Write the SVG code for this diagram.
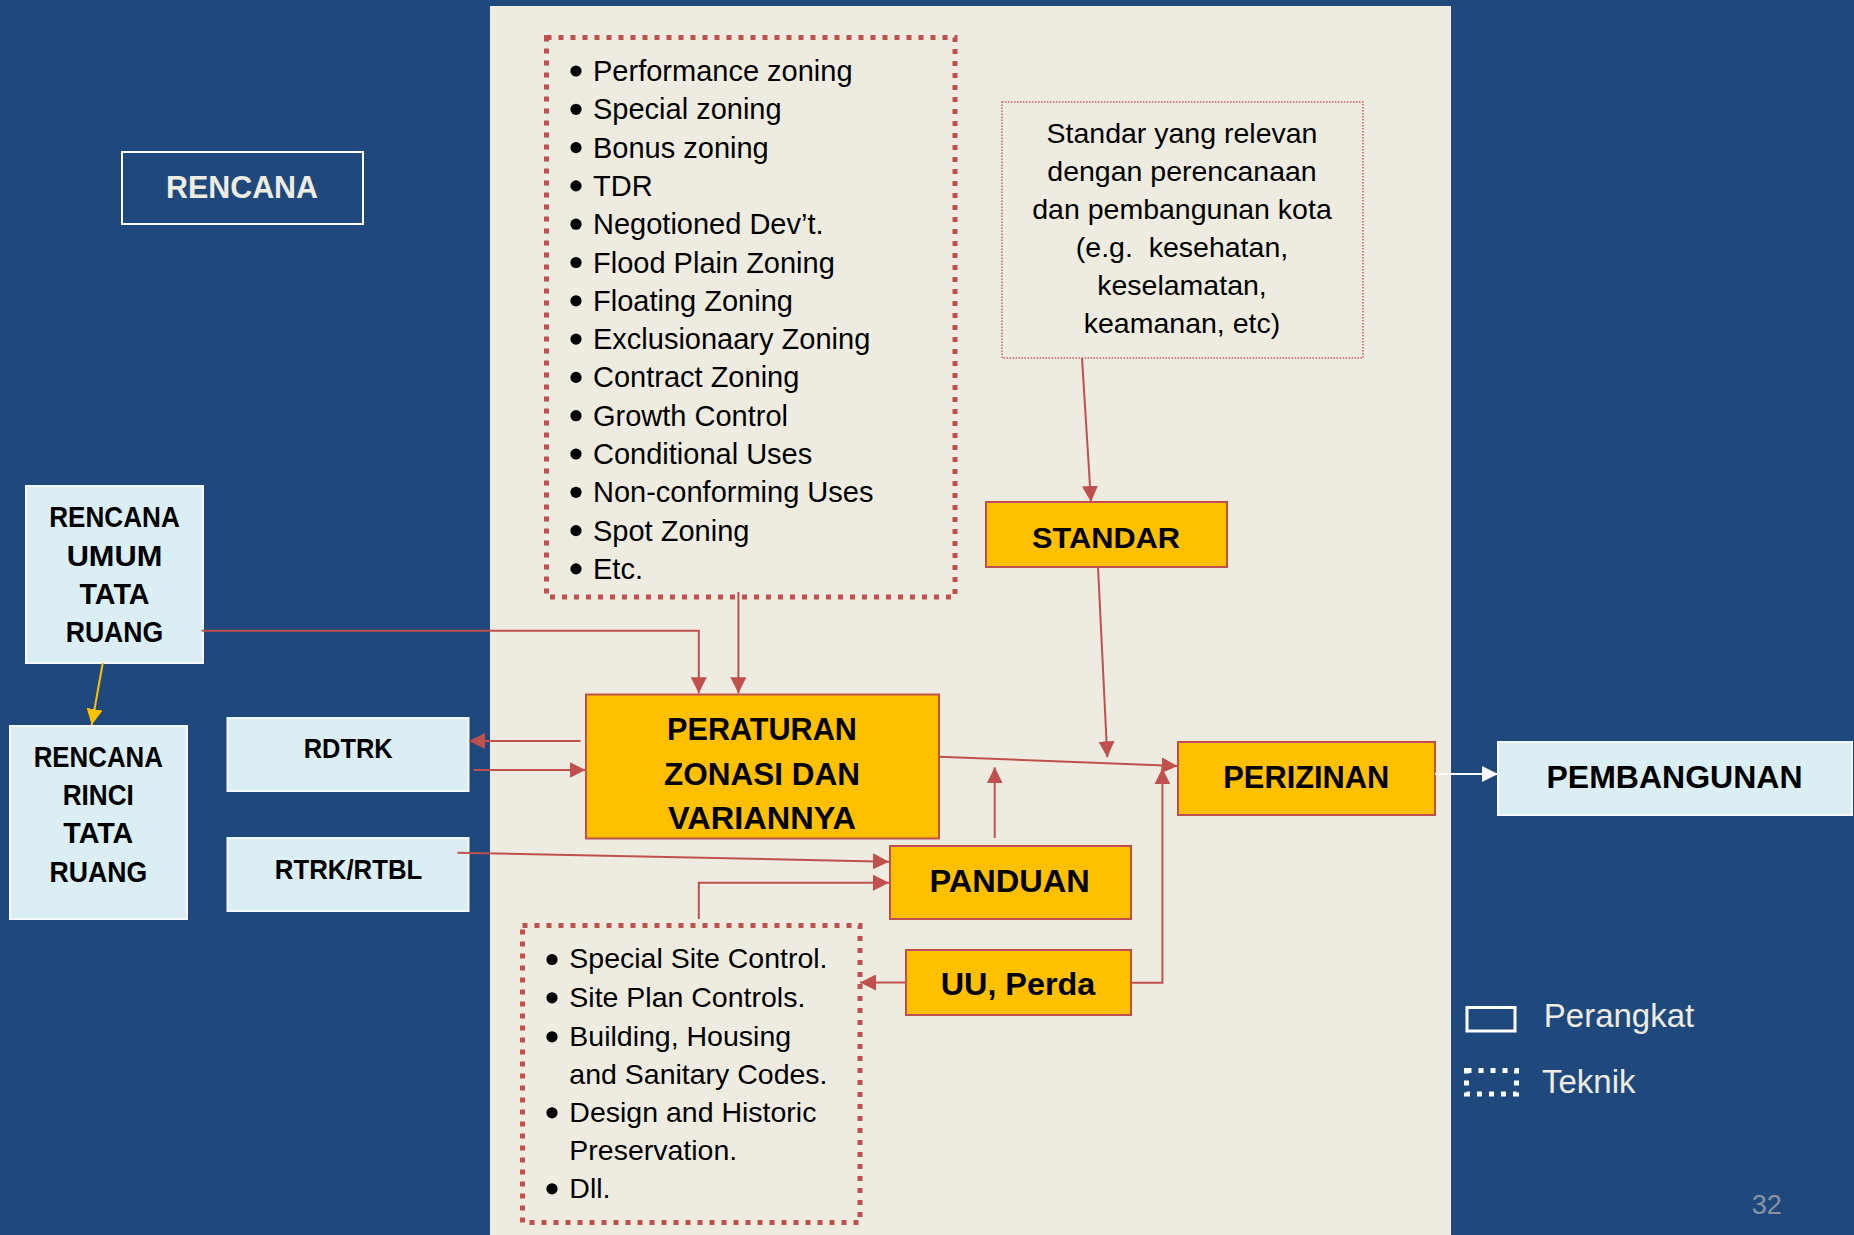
<svg xmlns="http://www.w3.org/2000/svg" width="1854" height="1235" viewBox="0 0 1854 1235">
<defs>
<style>
.bg{fill:#1F497D}
.panel{fill:#EEECE1}
.yb{fill:#FFC000;stroke:#C0504D;stroke-width:2}
.lb{fill:#DBEEF4;stroke:#F4F8FB;stroke-width:2}
.tech{fill:none;stroke:#C0504D;stroke-width:5;stroke-dasharray:5 7}
.thin{fill:none;stroke:#D65C5C;stroke-width:1.5;stroke-dasharray:1.5 1.5}
.b{font-family:"Liberation Sans",Arial,sans-serif;font-weight:bold;fill:#000;text-anchor:middle}
.t{font-family:"Liberation Sans",Arial,sans-serif;fill:#000}
.c{text-anchor:middle}
.leg{font-family:"Liberation Sans",Arial,sans-serif;fill:#EEECE1;font-size:33px}
.r{fill:none;stroke:#C0504D;stroke-width:2}
.dot{fill:#000}
</style>
<marker id="ar" markerUnits="userSpaceOnUse" markerWidth="16" markerHeight="16" viewBox="0 0 16 16" refX="16" refY="8" orient="auto"><path d="M0,0 L16,8 L0,16 z" fill="#C0504D"/></marker>
<marker id="ay" markerUnits="userSpaceOnUse" markerWidth="16" markerHeight="16" viewBox="0 0 16 16" refX="16" refY="8" orient="auto"><path d="M0,0 L16,8 L0,16 z" fill="#FFC000"/></marker>
<marker id="aw" markerUnits="userSpaceOnUse" markerWidth="16" markerHeight="16" viewBox="0 0 16 16" refX="16" refY="8" orient="auto"><path d="M0,0 L16,8 L0,16 z" fill="#FFFFFF"/></marker>
</defs>
<rect class="bg" x="0" y="0" width="1854" height="1235"/>
<rect class="panel" x="490" y="6" width="961" height="1229"/>

<g id="rencana-title">
<rect x="122" y="152" width="241" height="72" fill="none" stroke="#FFFFFF" stroke-width="2"/>
<text x="242" y="198" font-family="Liberation Sans, Arial, sans-serif" font-weight="bold" font-size="32" fill="#EEECE1" text-anchor="middle" textLength="152" lengthAdjust="spacingAndGlyphs">RENCANA</text>
</g>

<g id="zoning-techniques">
<rect class="tech" x="546.5" y="37.5" width="408.5" height="559.5"/>
<g class="dot">
<circle cx="576" cy="71" r="5.6"/><circle cx="576" cy="109.3" r="5.6"/><circle cx="576" cy="147.6" r="5.6"/><circle cx="576" cy="185.9" r="5.6"/><circle cx="576" cy="224.2" r="5.6"/><circle cx="576" cy="262.5" r="5.6"/><circle cx="576" cy="300.8" r="5.6"/><circle cx="576" cy="339.1" r="5.6"/><circle cx="576" cy="377.4" r="5.6"/><circle cx="576" cy="415.7" r="5.6"/><circle cx="576" cy="454" r="5.6"/><circle cx="576" cy="492.3" r="5.6"/><circle cx="576" cy="530.6" r="5.6"/><circle cx="576" cy="568.9" r="5.6"/>
</g>
<g class="t" font-size="29">
<text x="593" y="81">Performance zoning</text>
<text x="593" y="119.3">Special zoning</text>
<text x="593" y="157.6">Bonus zoning</text>
<text x="593" y="195.9">TDR</text>
<text x="593" y="234.2">Negotioned Dev’t.</text>
<text x="593" y="272.5">Flood Plain Zoning</text>
<text x="593" y="310.8">Floating Zoning</text>
<text x="593" y="349.1">Exclusionaary Zoning</text>
<text x="593" y="387.4">Contract Zoning</text>
<text x="593" y="425.7">Growth Control</text>
<text x="593" y="464">Conditional Uses</text>
<text x="593" y="502.3">Non-conforming Uses</text>
<text x="593" y="540.6">Spot Zoning</text>
<text x="593" y="578.9">Etc.</text>
</g>
</g>

<g id="standar-note">
<rect class="thin" x="1002" y="102" width="361" height="256"/>
<g class="t c" font-size="28.5">
<text x="1182" y="143.3">Standar yang relevan</text>
<text x="1182" y="181.3">dengan perencanaan</text>
<text x="1182" y="219.3">dan pembangunan kota</text>
<text x="1182" y="257.3" xml:space="preserve">(e.g.  kesehatan,</text>
<text x="1182" y="295.3">keselamatan,</text>
<text x="1182" y="333.3">keamanan, etc)</text>
</g>
</g>

<g id="standar">
<rect class="yb" x="986" y="502" width="241" height="65"/>
<text class="b" x="1106" y="548" font-size="30" textLength="148" lengthAdjust="spacingAndGlyphs">STANDAR</text>
</g>

<g id="rutr">
<rect class="lb" x="26" y="486" width="177" height="177"/>
<g class="b" font-size="29">
<text x="114.5" y="527.3" textLength="130.5" lengthAdjust="spacingAndGlyphs">RENCANA</text>
<text x="114.5" y="565.7" textLength="95.7" lengthAdjust="spacingAndGlyphs">UMUM</text>
<text x="114.5" y="604" textLength="70" lengthAdjust="spacingAndGlyphs">TATA</text>
<text x="114.5" y="642.3" textLength="97.7" lengthAdjust="spacingAndGlyphs">RUANG</text>
</g>
</g>

<g id="rrtr">
<rect class="lb" x="10" y="726" width="177" height="193"/>
<g class="b" font-size="29">
<text x="98.3" y="766.7" textLength="129.3" lengthAdjust="spacingAndGlyphs">RENCANA</text>
<text x="98.3" y="805" textLength="71.2" lengthAdjust="spacingAndGlyphs">RINCI</text>
<text x="98.3" y="843.3" textLength="70" lengthAdjust="spacingAndGlyphs">TATA</text>
<text x="98.3" y="881.7" textLength="97.7" lengthAdjust="spacingAndGlyphs">RUANG</text>
</g>
</g>

<g id="rdtrk">
<rect class="lb" x="227.5" y="718" width="241" height="73"/>
<text class="b" x="348.2" y="758.3" font-size="28" textLength="89" lengthAdjust="spacingAndGlyphs">RDTRK</text>
</g>

<g id="rtrk-rtbl">
<rect class="lb" x="227.5" y="838" width="241" height="73"/>
<text class="b" x="348.6" y="879" font-size="28" textLength="147.5" lengthAdjust="spacingAndGlyphs">RTRK/RTBL</text>
</g>

<g id="peraturan-zonasi">
<rect class="yb" x="586" y="694.5" width="353" height="144"/>
<g class="b" font-size="32">
<text x="762" y="740" textLength="189.8" lengthAdjust="spacingAndGlyphs">PERATURAN</text>
<text x="762" y="785" textLength="196" lengthAdjust="spacingAndGlyphs">ZONASI DAN</text>
<text x="762" y="829.3" textLength="187.8" lengthAdjust="spacingAndGlyphs">VARIANNYA</text>
</g>
</g>

<g id="panduan">
<rect class="yb" x="890" y="846" width="241" height="73"/>
<text class="b" x="1009.6" y="891.7" font-size="32" textLength="160.4" lengthAdjust="spacingAndGlyphs">PANDUAN</text>
</g>

<g id="uu-perda">
<rect class="yb" x="906" y="950" width="225" height="65"/>
<text class="b" x="1018" y="995" font-size="31.5" textLength="154.7" lengthAdjust="spacingAndGlyphs">UU, Perda</text>
</g>

<g id="perizinan">
<rect class="yb" x="1178" y="742" width="257" height="73"/>
<text class="b" x="1306.3" y="787.7" font-size="32" textLength="166" lengthAdjust="spacingAndGlyphs">PERIZINAN</text>
</g>

<g id="pembangunan">
<rect class="lb" x="1498" y="742" width="354" height="73"/>
<text class="b" x="1674.5" y="787.7" font-size="32" textLength="256" lengthAdjust="spacingAndGlyphs">PEMBANGUNAN</text>
</g>

<g id="site-controls">
<rect class="tech" x="522.5" y="925.5" width="337.5" height="297"/>
<g class="dot">
<circle cx="552" cy="959.5" r="5.6"/><circle cx="552" cy="997.8" r="5.6"/><circle cx="552" cy="1036.8" r="5.6"/><circle cx="552" cy="1112.8" r="5.6"/><circle cx="552" cy="1188.8" r="5.6"/>
</g>
<g class="t" font-size="28.5">
<text x="569.3" y="968.3">Special Site Control.</text>
<text x="569.3" y="1006.7">Site Plan Controls.</text>
<text x="569.3" y="1045.7">Building, Housing</text>
<text x="569.3" y="1084">and Sanitary Codes.</text>
<text x="569.3" y="1121.7">Design and Historic</text>
<text x="569.3" y="1160">Preservation.</text>
<text x="569.3" y="1197.7">Dll.</text>
</g>
</g>

<g id="connectors">
<line x1="102.8" y1="662.7" x2="91.7" y2="725" stroke="#FFC000" stroke-width="2" marker-end="url(#ay)"/>
<polyline class="r" points="201.7,630.7 698.8,630.7 698.8,693.3" marker-end="url(#ar)"/>
<line class="r" x1="738.4" y1="592" x2="738.4" y2="693.3" marker-end="url(#ar)"/>
<line class="r" x1="580.5" y1="741" x2="469" y2="741" marker-end="url(#ar)"/>
<line class="r" x1="473.7" y1="770" x2="585.5" y2="770" marker-end="url(#ar)"/>
<line class="r" x1="457.5" y1="852.7" x2="889" y2="861.7" marker-end="url(#ar)"/>
<polyline class="r" points="698.8,919 698.8,882.7 889,882.7" marker-end="url(#ar)"/>
<line class="r" x1="994.7" y1="838" x2="994.7" y2="767.3" marker-end="url(#ar)"/>
<line class="r" x1="906" y1="982.5" x2="860" y2="982.5" marker-end="url(#ar)"/>
<polyline class="r" points="1130.6,982.7 1162.4,982.7 1162.4,768.3" marker-end="url(#ar)"/>
<line class="r" x1="938.8" y1="756.7" x2="1177.5" y2="766" marker-end="url(#ar)"/>
<line class="r" x1="1082" y1="358" x2="1091" y2="502" marker-end="url(#ar)"/>
<line class="r" x1="1098" y1="567" x2="1107.3" y2="757.3" marker-end="url(#ar)"/>
<line x1="1435" y1="774" x2="1498" y2="774" stroke="#FFFFFF" stroke-width="2" marker-end="url(#aw)"/>
</g>

<g id="legend">
<rect x="1467" y="1007.5" width="48" height="23.5" fill="none" stroke="#FFFFFF" stroke-width="3"/>
<text class="leg" x="1543.8" y="1026.8">Perangkat</text>
<rect x="1466.5" y="1070.5" width="50" height="23.5" fill="none" stroke="#FFFFFF" stroke-width="5" stroke-dasharray="5 7"/>
<text class="leg" x="1542" y="1093.4">Teknik</text>
</g>

<text x="1751.7" y="1213.5" font-family="Liberation Sans, Arial, sans-serif" font-size="27" fill="#8A93A3">32</text>
</svg>
